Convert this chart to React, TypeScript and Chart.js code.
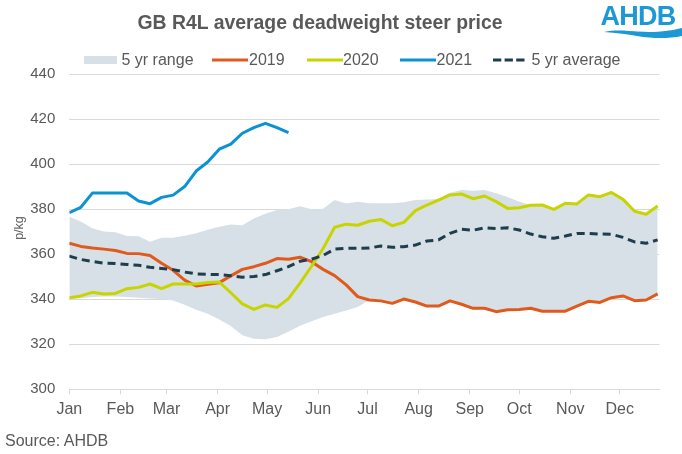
import React, { useEffect, useRef } from 'react';
import { Chart, registerables } from 'chart.js';

Chart.register(...registerables);

const FONT = "'Liberation Sans', Arial, Helvetica, sans-serif";
const TEXT = '#595959';
const GRID = '#D9D9D9';

const title = 'GB R4L average deadweight steer price';
const yAxisTitle = 'p/kg';
const sourceText = 'Source: AHDB';

const monthLabels = ['Jan', 'Feb', 'Mar', 'Apr', 'May', 'Jun', 'Jul', 'Aug', 'Sep', 'Oct', 'Nov', 'Dec'];
const monthStartDays = [0, 31, 59, 90, 120, 151, 181, 212, 243, 273, 304, 334];

const weekStartDays = [
  0, 7, 14, 21, 28, 35, 42, 49, 56, 63, 70, 77, 84, 91, 98, 105, 112, 119, 126, 133,
  140, 147, 154, 161, 168, 175, 182, 189, 196, 203, 210, 217, 224, 231, 238, 245, 252,
  259, 266, 273, 280, 287, 294, 301, 308, 315, 322, 329, 336, 343, 350, 357,
];

const yTicks = [300, 320, 340, 360, 380, 400, 420, 440];

const range5yrUpper = [
  376.7, 374.6, 371.6, 370.1, 369.8, 368.1, 368.0, 365.6, 367.4, 367.4,
  368.2, 369.4, 370.9, 372.2, 373.2, 372.9, 375.9, 378.0, 379.7, 380.0,
  381.4, 380.0, 380.3, 384.1, 382.6, 383.4, 382.7, 382.7, 382.7, 383.1,
  384.1, 384.4, 384.6, 387.4, 388.6, 388.3, 388.6, 387.1, 385.5, 383.4,
  381.9, 381.9, 380.0, 382.7, 382.4, 386.4, 385.6, 387.5, 384.4, 379.1,
  377.8, 381.5,
];

const range5yrLower = [
  340.0, 340.5, 341.0, 341.2, 341.2, 341.0, 340.7, 340.4, 340.1, 339.5,
  337.6, 335.4, 333.6, 331.0, 328.1, 324.0, 322.5, 322.2, 323.2, 325.6,
  328.3, 330.3, 332.1, 333.6, 335.0, 336.6, 339.7, 339.3, 338.2, 340.1,
  338.8, 337.0, 337.0, 339.3, 337.8, 336.0, 336.0, 334.5, 335.4, 335.5,
  336.0, 334.7, 334.7, 334.7, 337.0, 339.1, 338.6, 340.7, 341.5, 339.4,
  339.7, 342.4,
];

const price2019 = [
  364.9, 363.5, 362.8, 362.3, 361.7, 360.4, 360.3, 359.5, 356.0, 352.9,
  348.5, 345.9, 346.7, 347.4, 350.4, 353.3, 354.5, 356.0, 358.1, 357.8,
  358.7, 356.7, 353.3, 350.5, 346.4, 341.2, 339.7, 339.3, 338.2, 340.1,
  338.8, 337.0, 337.0, 339.3, 337.8, 336.0, 336.0, 334.5, 335.4, 335.5,
  336.0, 334.7, 334.7, 334.7, 337.0, 339.1, 338.6, 340.7, 341.5, 339.4,
  339.7, 342.4,
];

const price2020 = [
  340.7, 341.5, 343.1, 342.4, 342.6, 344.7, 345.3, 346.8, 344.7, 346.8,
  346.8, 346.8, 347.5, 347.7, 342.9, 338.0, 335.5, 337.5, 336.4, 340.3,
  347.2, 354.7, 362.6, 372.0, 373.4, 372.9, 374.7, 375.5, 372.7, 374.2,
  379.4, 381.9, 384.1, 386.4, 386.8, 384.7, 385.9, 383.4, 380.4, 380.7,
  381.8, 381.9, 380.0, 382.7, 382.4, 386.4, 385.6, 387.5, 384.4, 379.1,
  377.8, 381.5,
];

const price2021 = [
  378.5, 380.9, 387.2, 387.2, 387.2, 387.2, 383.7, 382.5, 385.3, 386.3,
  390.1, 397.0, 401.0, 406.7, 409.0, 413.8, 416.3, 418.2, 416.3, 414.1,
];

const avg5yr = [
  359.2, 357.7, 356.8, 356.0, 355.9, 355.5, 355.1, 354.2, 353.7, 353.2,
  352.1, 351.3, 351.1, 351.0, 350.5, 349.8, 350.1, 351.0, 352.7, 354.5,
  356.9, 357.8, 359.5, 362.3, 362.7, 362.7, 362.8, 363.7, 363.1, 363.4,
  364.1, 365.9, 366.4, 369.3, 371.1, 370.7, 371.8, 371.5, 371.8, 370.8,
  369.0, 367.8, 367.1, 368.1, 369.3, 369.3, 369.0, 368.9, 367.5, 365.5,
  364.9, 366.4,
];

const COLORS = {
  range: '#D7E0E6',
  y2019: '#E0591D',
  y2020: '#C8D400',
  y2021: '#0B92D5',
  avg: '#1E3D4D',
  logo: '#1C98D5',
};

const toPoints = (values: number[]) => values.map((v, i) => ({ x: weekStartDays[i], y: v }));

const lineDataset = (label: string, values: number[], color: string, order: number, dash: number[] = []) => ({
  label,
  data: toPoints(values),
  borderColor: color,
  backgroundColor: color,
  borderWidth: 3,
  borderDash: dash,
  borderCapStyle: 'butt' as const,
  borderJoinStyle: 'round' as const,
  pointRadius: 0,
  pointHoverRadius: 0,
  tension: 0,
  fill: false,
  order,
});

const legendText: React.CSSProperties = {
  position: 'absolute',
  top: 50,
  height: 19,
  lineHeight: '19px',
  fontSize: 16,
  fontFamily: FONT,
  color: TEXT,
  whiteSpace: 'nowrap',
};

function LineSwatch({ left, width, color, dash }: { left: number; width: number; color: string; dash?: string }) {
  return (
    <svg style={{ position: 'absolute', left, top: 57, width, height: 6 }} width={width} height={6}>
      <line x1={0} y1={3} x2={width} y2={3} stroke={color} strokeWidth={3} strokeDasharray={dash} />
    </svg>
  );
}

export default function App() {
  const canvasRef = useRef<HTMLCanvasElement | null>(null);

  useEffect(() => {
    const canvas = canvasRef.current;
    if (!canvas) return;
    const chart = new Chart(canvas, {
      type: 'line',
      data: {
        datasets: [
          {
            label: '5 yr range',
            data: toPoints(range5yrUpper),
            borderColor: 'rgba(0,0,0,0)',
            backgroundColor: COLORS.range,
            borderWidth: 0,
            pointRadius: 0,
            tension: 0,
            fill: '+1',
            order: 10,
          },
          {
            label: '5 yr range low',
            data: toPoints(range5yrLower),
            borderColor: 'rgba(0,0,0,0)',
            backgroundColor: COLORS.range,
            borderWidth: 0,
            pointRadius: 0,
            tension: 0,
            fill: false,
            order: 10,
          },
          lineDataset('2019', price2019, COLORS.y2019, 4),
          lineDataset('2020', price2020, COLORS.y2020, 3),
          lineDataset('2021', price2021, COLORS.y2021, 2),
          lineDataset('5 yr average', avg5yr, COLORS.avg, 1, [8, 5]),
        ] as any,
      },
      options: {
        responsive: false,
        animation: false,
        events: [],
        layout: { padding: { top: 74.3, right: 22.7, bottom: 0, left: 0 } },
        plugins: {
          legend: { display: false },
          title: { display: false },
          tooltip: { enabled: false },
        },
        scales: {
          x: {
            type: 'linear',
            min: 0,
            max: 358,
            afterBuildTicks: (scale: any) => {
              scale.ticks = monthStartDays.map((v) => ({ value: v }));
            },
            afterFit: (scale: any) => {
              scale.height = 454 - 389.3;
            },
            ticks: {
              autoSkip: false,
              maxRotation: 0,
              padding: 6,
              color: TEXT,
              font: { family: FONT, size: 16 },
              callback: (value: any) => {
                const idx = monthStartDays.indexOf(Number(value));
                return idx >= 0 ? monthLabels[idx] : '';
              },
            },
            grid: {
              drawOnChartArea: false,
              drawTicks: true,
              tickLength: 5,
              color: GRID,
              lineWidth: 1,
            },
            border: { display: true, color: GRID, width: 1 },
          },
          y: {
            min: yTicks[0],
            max: yTicks[yTicks.length - 1],
            afterFit: (scale: any) => {
              scale.width = 69.3;
            },
            afterBuildTicks: (scale: any) => {
              scale.ticks = yTicks.map((v) => ({ value: v }));
            },
            ticks: {
              padding: 14,
              color: TEXT,
              font: { family: FONT, size: 15 },
            },
            grid: { color: GRID, lineWidth: 1, drawTicks: false },
            border: { display: false },
          },
        },
      } as any,
    });
    return () => chart.destroy();
  }, []);

  return (
    <div style={{ position: 'absolute', left: 0, top: 0, width: 682, height: 454, background: '#fff', overflow: 'hidden' }}>
      <canvas ref={canvasRef} width={682} height={454} style={{ position: 'absolute', left: 0, top: 0, width: 682, height: 454 }} />

      <div
        style={{
          position: 'absolute', left: 0, top: 10, width: 640, textAlign: 'center',
          fontFamily: FONT, fontWeight: 'bold', fontSize: 19.4, lineHeight: '24px', color: TEXT,
        }}
      >
        {title}
      </div>

      {/* Logo */}
      <div
        style={{
          position: 'absolute', left: 598, top: 1, width: 80, textAlign: 'center',
          fontFamily: FONT, fontWeight: 'bold', fontSize: 27, lineHeight: '30px', color: COLORS.logo, letterSpacing: -0.8,
        }}
      >
        AHDB
      </div>
      <svg style={{ position: 'absolute', left: 600, top: 25, width: 82, height: 16 }} width={82} height={16}>
        <path d="M4,7 C26,2 46,12 82,3 L82,11 C52,17 30,8 4,7 Z" fill={COLORS.logo} />
      </svg>

      {/* Legend */}
      <div style={{ position: 'absolute', left: 84, top: 56, width: 33, height: 8, background: COLORS.range }} />
      <div style={{ ...legendText, left: 121.5 }}>5 yr range</div>
      <LineSwatch left={212} width={36} color={COLORS.y2019} />
      <div style={{ ...legendText, left: 249 }}>2019</div>
      <LineSwatch left={306.5} width={36} color={COLORS.y2020} />
      <div style={{ ...legendText, left: 343 }}>2020</div>
      <LineSwatch left={399.5} width={36} color={COLORS.y2021} />
      <div style={{ ...legendText, left: 436.5 }}>2021</div>
      <LineSwatch left={493.3} width={32} color={COLORS.avg} dash="8.3 3.3" />
      <div style={{ ...legendText, left: 531.5 }}>5 yr average</div>

      {/* Y axis title */}
      <div
        style={{
          position: 'absolute', left: 19 - 30, top: 228 - 8, width: 60, height: 16, lineHeight: '16px',
          textAlign: 'center', transform: 'rotate(-90deg)', fontFamily: FONT, fontSize: 12.5, color: TEXT,
        }}
      >
        {yAxisTitle}
      </div>

      <div
        style={{
          position: 'absolute', left: 5, top: 431, lineHeight: '19px',
          fontFamily: FONT, fontSize: 16, color: TEXT, whiteSpace: 'nowrap',
        }}
      >
        {sourceText}
      </div>
    </div>
  );
}
